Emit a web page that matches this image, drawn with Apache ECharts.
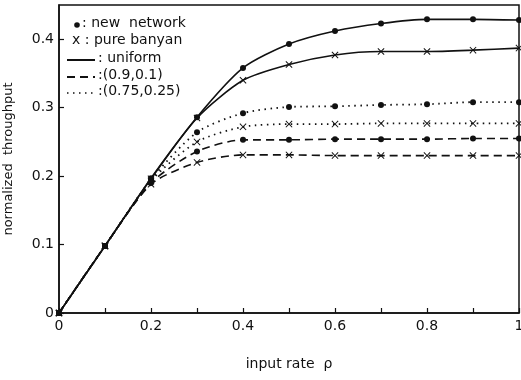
<!DOCTYPE html>
<html>
<head>
<meta charset="utf-8">
<script src="https://cdn.jsdelivr.net/npm/echarts@6/dist/echarts.min.js"></script>
<style>
  html, body { margin: 0; padding: 0; background: #fff; }
  #chart { width: 521px; height: 380px; }
</style>
</head>
<body>
<div id="chart"></div>
<script>
// input rate (x)
const rho = [0, 0.1, 0.2, 0.3, 0.4, 0.5, 0.6, 0.7, 0.8, 0.9, 1.0];

// normalized throughput
const uniformNew    = [0, 0.098, 0.197, 0.286, 0.358, 0.393, 0.412, 0.423, 0.429, 0.429, 0.428];
const uniformBanyan = [0, 0.098, 0.196, 0.285, 0.340, 0.363, 0.377, 0.382, 0.382, 0.384, 0.387];
const skew75New     = [0, 0.098, 0.195, 0.264, 0.292, 0.301, 0.302, 0.304, 0.305, 0.308, 0.308];
const skew75Banyan  = [0, 0.098, 0.193, 0.250, 0.272, 0.276, 0.276, 0.277, 0.277, 0.277, 0.277];
const skew90New     = [0, 0.098, 0.190, 0.236, 0.253, 0.253, 0.254, 0.254, 0.254, 0.255, 0.255];
const skew90Banyan  = [0, 0.098, 0.188, 0.220, 0.231, 0.231, 0.230, 0.230, 0.230, 0.230, 0.230];

const xTicks = ['0', '0.2', '0.4', '0.6', '0.8', '1'];

const INK = '#111';
const FONT = 'DejaVu Sans';

// filled "x" shape for the pure banyan markers
const crossPath = 'path://M0,1L1,0L5,4L9,0L10,1L6,5L10,9L9,10L5,6L1,10L0,9L4,5Z';

const pairs = ys => rho.map((x, i) => [x, ys[i]]);

const lineTypes = {
    solid: 'solid',
    dashed: [8, 5],
    dotted: [1.5, 4.5],
};

const makeSeries = (name, ys, style, marker) => ({
    name: name,
    type: 'line',
    data: pairs(ys),
    smooth: 0.25,
    symbol: marker === 'dot' ? 'circle' : crossPath,
    symbolSize: marker === 'dot' ? 6 : 7,
    showSymbol: true,
    color: INK,
    itemStyle: { color: INK, borderWidth: 0 },
    lineStyle: { color: INK, width: style === 'dotted' ? 1.8 : 1.6, type: lineTypes[style] },
    z: 3,
});

const chart = echarts.init(document.getElementById('chart'), null, { renderer: 'canvas' });

// legend drawn by hand (marker key + line style key)
const legendRows = [
    { y: 25, kind: 'dot', text: ': new  network' },
    { y: 43, kind: 'x', text: 'x : pure banyan' },
    { y: 60, kind: 'solid', text: ': uniform' },
    { y: 77, kind: 'dashed', text: ':(0.9,0.1)' },
    { y: 93, kind: 'dotted', text: ':(0.75,0.25)' },
];

const legendGraphics = [];
legendRows.forEach(r => {
    if (r.kind === 'dot') {
        legendGraphics.push({ type: 'circle', shape: { cx: 77, cy: r.y, r: 2.8 }, style: { fill: INK } });
        legendGraphics.push({ type: 'text', left: 82, top: r.y - 9, style: { text: r.text, font: '14px ' + FONT, fill: INK } });
    } else if (r.kind === 'x') {
        legendGraphics.push({ type: 'text', left: 72, top: r.y - 10, style: { text: r.text, font: '14px ' + FONT, fill: INK } });
    } else {
        legendGraphics.push({
            type: 'line',
            shape: { x1: 67, y1: r.y, x2: 95, y2: r.y },
            style: { stroke: INK, lineWidth: r.kind === 'dotted' ? 1.5 : 2, lineDash: r.kind === 'solid' ? null : lineTypes[r.kind] },
        });
        legendGraphics.push({ type: 'text', left: 98, top: r.y - 9, style: { text: r.text, font: '14px ' + FONT, fill: INK } });
    }
});

const option = {
    backgroundColor: '#fff',
    animation: false,
    grid: {
        left: 59,
        right: 2,
        top: 5,
        bottom: 67,
        outerBoundsMode: 'none',
        show: true,
        borderColor: INK,
        borderWidth: 1.5,
        backgroundColor: 'transparent',
    },
    xAxis: {
        type: 'value',
        min: 0,
        max: 1,
        interval: 0.1,
        name: 'input rate  \u03C1',
        nameLocation: 'middle',
        nameGap: 44,
        nameTextStyle: { color: INK, fontFamily: FONT, fontSize: 14 },
        axisLine: { show: true, lineStyle: { color: INK, width: 1.5 } },
        axisTick: { show: true, inside: true, length: 5, lineStyle: { color: INK, width: 1.2 } },
        axisLabel: {
            color: INK,
            fontFamily: FONT,
            fontSize: 14,
            margin: 6,
            formatter: v => {
                const k = Math.round(v * 10);
                return k % 2 === 0 ? xTicks[k / 2] : '';
            },
        },
        splitLine: { show: false },
    },
    yAxis: {
        type: 'value',
        min: 0,
        max: 0.45,
        interval: 0.1,
        name: 'normalized  throughput',
        nameLocation: 'middle',
        nameGap: 44,
        nameTextStyle: { color: INK, fontFamily: FONT, fontSize: 13 },
        axisLine: { show: true, lineStyle: { color: INK, width: 1.5 } },
        axisTick: { show: true, inside: true, length: 5, lineStyle: { color: INK, width: 1.2 } },
        axisLabel: {
            color: INK,
            fontFamily: FONT,
            fontSize: 14,
            margin: 5,
            showMaxLabel: false,
            formatter: v => (v === 0 ? '0' : v.toFixed(1)),
        },
        splitLine: { show: false },
    },
    series: [
        makeSeries('uniform new', uniformNew, 'solid', 'dot'),
        makeSeries('uniform banyan', uniformBanyan, 'solid', 'x'),
        makeSeries('(0.75,0.25) new', skew75New, 'dotted', 'dot'),
        makeSeries('(0.75,0.25) banyan', skew75Banyan, 'dotted', 'x'),
        makeSeries('(0.9,0.1) new', skew90New, 'dashed', 'dot'),
        makeSeries('(0.9,0.1) banyan', skew90Banyan, 'dashed', 'x'),
    ],
    graphic: legendGraphics,
};

chart.setOption(option);
</script>
</body>
</html>
